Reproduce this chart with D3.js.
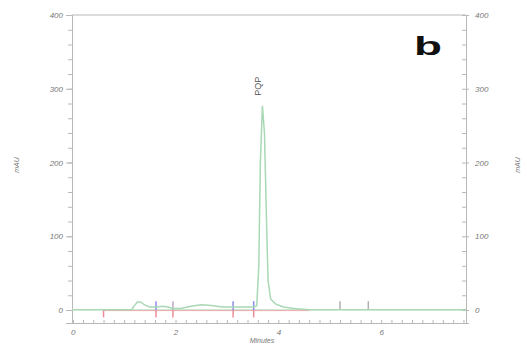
<!DOCTYPE html>
<html lang="en">
<head>
<meta charset="utf-8">
<script src="https://d3js.org/d3.v7.min.js"></script>
<style type="text/css">
	body{ margin:0; background:#fff; }
	svg text{ font-family:"Liberation Sans", Arial, sans-serif; }
</style>
</head>
<body>
<script type="text/javascript">
	// chromatogram trace (minutes, mAU)
	var traceTime = [0, 0.6, 1.15, 1.2, 1.26, 1.32, 1.4, 1.5, 1.62, 1.75, 1.85, 1.95, 2.1, 2.3, 2.5, 2.7, 2.9, 3.1, 3.3, 3.5, 3.58, 3.62, 3.65, 3.69, 3.73, 3.77, 3.8, 3.85, 3.95, 4.1, 4.3, 4.6, 7.65];
	var traceMAU  = [0.5, 0.5, 0.8, 6, 11, 11, 7, 4, 4, 5, 4, 2, 2, 5, 7, 6, 4, 4, 4, 4, 6, 60, 200, 277, 240, 120, 40, 15, 8, 4, 2, 0.5, 0.5];
	// integration baseline
	var baseTime = [0.6, 4.6];
	var baseMAU = [-0.8, -0.8];
	// event markers
	var markTime  = [0.6, 1.62, 1.95, 3.12, 3.52, 5.2, 5.75];
	var markTop   = ["none", "#8c8ce6", "#c0a8c8", "#8c8ce6", "#8c8ce6", "#b0b0b0", "#b0b0b0"];
	var markBot   = ["#ec8c96", "#ec8c96", "#ec8c96", "#ec8c96", "#ec8c96", "none", "none"];
	var peakLabel = "PQP";
	var yTicks = [0, 100, 200, 300, 400];
	var xTicks = [0, 2, 4, 6];

	var W = 527, H = 344;
	var padL = 72, padR = 466, padT = 15, padB = 323;

	var svg = d3.select('body').append('svg')
		.attr('width', W).attr('height', H);

	var x = d3.scaleLinear().domain([0, 7.65]).range([padL + 0.7, padR]);
	var y = d3.scaleLinear().domain([-17.6, 400]).range([padB, padT]);

	var axisCol = "#b8b8b8", textCol = "#777";

	// frame top
	svg.append('line').attr('x1', padL).attr('x2', padR).attr('y1', padT).attr('y2', padT)
		.style('stroke', axisCol);

	// left axis
	var ly = svg.append('g').attr('transform', 'translate(' + padL + ',0)')
		.call(d3.axisLeft(y).tickValues(d3.range(0, 401, 20)).tickSize(4).tickFormat(''));
	var ly2 = svg.append('g').attr('transform', 'translate(' + padL + ',0)')
		.call(d3.axisLeft(y).tickValues(yTicks).tickSize(6).tickFormat(d3.format('d')));
	// right axis
	var ry = svg.append('g').attr('transform', 'translate(' + padR + ',0)')
		.call(d3.axisLeft(y).tickValues(d3.range(0, 401, 20)).tickSize(4).tickFormat(''));
	var ry2 = svg.append('g').attr('transform', 'translate(' + padR + ',0)')
		.call(d3.axisRight(y).tickValues(yTicks).tickSize(3).tickFormat(d3.format('d')));
	// bottom axis
	var bx = svg.append('g').attr('transform', 'translate(0,' + padB + ')')
		.call(d3.axisTop(x).tickValues(d3.range(0, 7.65, 0.2)).tickSize(3).tickFormat(''));
	var bx2 = svg.append('g').attr('transform', 'translate(0,' + padB + ')')
		.call(d3.axisBottom(x).tickValues(xTicks).tickSize(0).tickPadding(6).tickFormat(d3.format('d')));

	svg.selectAll('.domain').style('stroke', axisCol);
	svg.selectAll('.tick line').style('stroke', axisCol);
	svg.selectAll('.tick text').style('fill', textCol).style('font-size', '8px').style('font-style', 'italic');
	ly2.selectAll('.tick text').attr('x', -9);
	ry2.selectAll('.tick text').attr('x', 9);

	// axis titles
	svg.append('text').attr('transform', 'translate(19,165) rotate(-90)')
		.attr('text-anchor', 'middle').style('font-size', '7px').style('font-style', 'italic').style('fill', textCol).text('mAU');
	svg.append('text').attr('transform', 'translate(520,165) rotate(-90)')
		.attr('text-anchor', 'middle').style('font-size', '7px').style('font-style', 'italic').style('fill', textCol).text('mAU');
	svg.append('text').attr('x', 262).attr('y', 343)
		.attr('text-anchor', 'middle').style('font-size', '7px').style('font-style', 'italic').style('fill', textCol).text('Minutes');

	// zero line across
	svg.append('line').attr('x1', padL).attr('x2', padR).attr('y1', y(0.5)).attr('y2', y(0.5))
		.style('stroke', '#c6e2cc').style('stroke-width', 1);

	// baseline
	var line = d3.line().x(function(d){ return x(d[0]); }).y(function(d){ return y(d[1]); });
	svg.append('path').datum(d3.zip(baseTime, baseMAU)).attr('d', line)
		.style('fill', 'none').style('stroke', '#eaa8a8').style('stroke-width', 1);

	// markers
	markTime.forEach(function(t, i){
		if (markTop[i] != "none")
			svg.append('line').attr('x1', x(t)).attr('x2', x(t)).attr('y1', y(0)).attr('y2', y(12))
				.style('stroke', markTop[i]).style('stroke-width', 1.5);
		if (markBot[i] != "none")
			svg.append('line').attr('x1', x(t)).attr('x2', x(t)).attr('y1', y(0)).attr('y2', y(-10))
				.style('stroke', markBot[i]).style('stroke-width', 1.5);
	});

	// trace
	svg.append('path').datum(d3.zip(traceTime, traceMAU)).attr('d', line)
		.style('fill', 'none').style('stroke', '#a8d8b4').style('stroke-width', 1.5);

	// peak label
	svg.append('text').attr('transform', 'translate(' + (x(3.69) - 1) + ',' + (y(277) - 10) + ') rotate(-90)')
		.style('font-size', '9px').style('fill', '#555').text(peakLabel);

	// panel letter
	svg.append('text').attr('x', 414).attr('y', 55)
		.style('font-size', '26px').style('font-weight', 'bold').style('fill', '#111')
		.attr('textLength', 28).attr('lengthAdjust', 'spacingAndGlyphs').text('b');
</script>
</body>
</html>
